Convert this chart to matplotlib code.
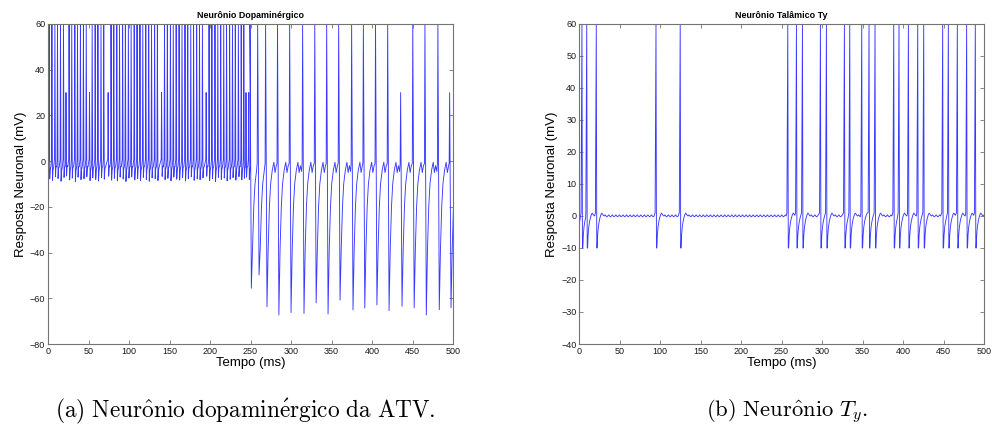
import matplotlib
matplotlib.use("Agg")
import matplotlib.pyplot as plt

plt.rcParams['font.family'] = ['Liberation Sans', 'DejaVu Sans']
plt.rcParams['mathtext.fontset'] = 'cm'

# Neuronio dopaminergico: fase de disparo rapido (0-250 ms), tempos dos disparos em ms
da_fast_times = [1.2, 4.6, 8.3, 11.5, 15.2, 18.9, 22.0, 25.8, 29.1, 32.9,
                 36.2, 39.8, 43.5, 47.0, 51.0, 54.3, 58.0, 61.4, 65.2, 68.6,
                 74.0, 77.6, 81.0, 84.7, 88.1, 91.9, 95.3, 99.0, 102.4, 106.2,
                 109.7, 113.3, 116.8, 120.5, 124.1, 127.6, 131.4, 134.8, 140.0, 143.6,
                 147.1, 150.9, 154.4, 158.0, 161.6, 165.2, 168.9, 172.3, 176.0, 179.5,
                 183.3, 186.8, 190.4, 195.0, 198.6, 202.1, 205.9, 209.4, 213.0, 216.7,
                 220.2, 224.0, 227.5, 231.0, 234.8, 238.3, 241.5, 244.2, 247.6]
# minimo (mV) logo apos cada disparo rapido
da_fast_troughs = [-7.8, -8.4, -6.9, -7.6, -8.8, -7.1, -6.5, -8.2, -7.4, -8.9,
                   -7.0, -8.1, -7.7, -6.8, -8.5, -7.3, -8.0, -8.7, -7.2, -7.9,
                   -6.6, -8.3, -7.5, -8.6, -7.0, -7.8, -8.9, -7.4, -6.9, -8.2,
                   -7.6, -8.4, -7.1, -8.0, -8.8, -7.3, -7.7, -8.5, -6.7, -8.1,
                   -7.5, -8.6, -7.0, -7.9, -8.3, -7.2, -8.7, -7.6, -6.9, -8.4,
                   -7.8, -8.1, -7.3, -6.6, -8.5, -7.7, -8.9, -7.1, -8.0, -7.4,
                   -8.6, -7.9, -7.2, -8.3, -6.8, -8.2, -7.5, -7.0, -8.0]
# fase lenta (250-500 ms)
da_slow_times = [249.0, 258.5, 268.3, 283.0, 298.0, 314.0, 329.0, 343.7, 358.5,
                 374.5, 389.0, 404.0, 419.0, 435.0, 450.0, 465.0, 481.0, 495.5]
da_slow_troughs = [-55.6, -49.8, -63.7, -67.3, -66.3, -66.6, -62.0, -66.9, -60.8,
                   -65.1, -64.3, -62.9, -65.4, -63.5, -64.2, -67.3, -65.0, -64.2]
# disparos que so chegam a ~30 mV
da_half_spikes = [22.0, 51.0, 74.0, 140.0, 195.0, 244.2, 247.6, 435.0, 495.5]
da_start = -5.0

# Neuronio talamico Ty
ty_times = [3.3, 9.2, 21.0, 94.7, 124.6, 257.4, 268.1, 275.5, 297.7, 305.1,
            327.3, 333.9, 348.7, 357.7, 365.1, 388.2, 394.7, 406.3, 417.8, 425.2,
            448.6, 455.6, 466.7, 478.2, 488.9]
ty_trough = -10.0
ty_start = -3.0
ty_ripple = [0.0, 0.35, 0.0, -0.25]

full_peak = 60.0
half_peak = 30.0
t_end = 500.0

# forma da recuperacao depois do minimo (ms apos o minimo, mV)
da_slow_recovery = [(1.5, -38.0), (3.0, -20.0), (4.5, -10.0), (6.5, -4.0),
                    (8.5, -0.5), (10.0, -5.0), (11.5, -2.0), (13.0, -4.5)]
ty_recovery = [(0.6, -6.0), (1.4, -3.5), (2.4, -1.8), (3.4, -0.6),
               (4.6, 0.4), (5.6, 0.9), (6.6, 0.6), (7.6, 0.2)]


def peak_of(t):
    return half_peak if t in da_half_spikes else full_peak


def dopa_trace():
    ts, vs = [0.0], [da_start]
    # rapido
    for i, t in enumerate(da_fast_times):
        ts += [t - 0.3, t + 0.2, t + 0.9, t + 1.6, t + 2.4]
        vs += [0.8, peak_of(t), da_fast_troughs[i], da_fast_troughs[i] + 4.5, -2.5]
    # lento
    for i, t in enumerate(da_slow_times):
        nxt = da_slow_times[i + 1] if i + 1 < len(da_slow_times) else t_end + 20
        if ts[-1] < t - 0.3:
            ts.append(t - 0.3)
            vs.append(-1.0)
        ts += [t + 0.3, t + 2.0]
        vs += [peak_of(t), da_slow_troughs[i]]
        for dt, v in da_slow_recovery:
            if t + 2.0 + dt < nxt - 0.8:
                ts.append(t + 2.0 + dt)
                vs.append(v)
    return ts, vs


def ty_trace():
    ts, vs = [0.0], [ty_start]
    for i, t in enumerate(ty_times):
        nxt = ty_times[i + 1] if i + 1 < len(ty_times) else t_end + 20
        if ts[-1] < t - 0.8:
            ts.append(t - 0.8)
            vs.append(1.0)
        ts += [t + 0.3, t + 0.9, t + 1.4]
        vs += [full_peak, ty_trough, ty_trough]
        for dt, v in ty_recovery:
            if t + 1.4 + dt < nxt - 1.0:
                ts.append(t + 1.4 + dt)
                vs.append(v)
        k = 0
        tt = ts[-1] + 1.1
        while tt < min(nxt - 1.2, t_end + 2):
            ts.append(tt)
            vs.append(ty_ripple[k % len(ty_ripple)])
            k += 1
            tt += 1.1
    return ts, vs


def style_axes(ax, title, ylim, yticks):
    ax.set_xlim(0, 500)
    ax.set_ylim(*ylim)
    ax.set_xticks(range(0, 501, 50))
    ax.set_yticks(yticks)
    ax.set_title(title, fontsize=6.4, fontweight='bold', pad=4)
    ax.set_xlabel('Tempo (ms)', fontsize=9.5, labelpad=1)
    ax.set_ylabel('Resposta Neuronal (mV)', fontsize=9.5, labelpad=2)
    ax.tick_params(direction='in', length=3, width=0.6, labelsize=6.5,
                   top=True, right=True, colors='0.45', labelcolor='0.1', pad=2)
    for sp in ax.spines.values():
        sp.set_color('0.45')
        sp.set_linewidth(0.8)


fig = plt.figure(figsize=(9.92, 4.30), dpi=100)
ax1 = fig.add_axes([0.0484, 0.2, 0.4083, 0.7442])
ax2 = fig.add_axes([0.5837, 0.2, 0.4083, 0.7442])

line_col = '#3a3aff'

t1, v1 = dopa_trace()
ax1.plot(t1, v1, color=line_col, lw=0.65)
style_axes(ax1, 'Neurônio Dopaminérgico', (-80, 60), range(-80, 61, 20))

t2, v2 = ty_trace()
ax2.plot(t2, v2, color=line_col, lw=0.65)
style_axes(ax2, 'Neurônio Talâmico Ty', (-40, 60), range(-40, 61, 10))

fig.text(0.2475, 0.042, r'$\mathrm{(a)\ Neur\hat{o}nio\ dopamin\acute{e}rgico\ da\ ATV.}$',
         ha='center', va='center', fontsize=16.8)
fig.text(0.7935, 0.042, r'$\mathrm{(b)\ Neur\hat{o}nio\ }T_y\mathrm{.}$',
         ha='center', va='center', fontsize=16.3)

fig.savefig('out.png', dpi=100)
